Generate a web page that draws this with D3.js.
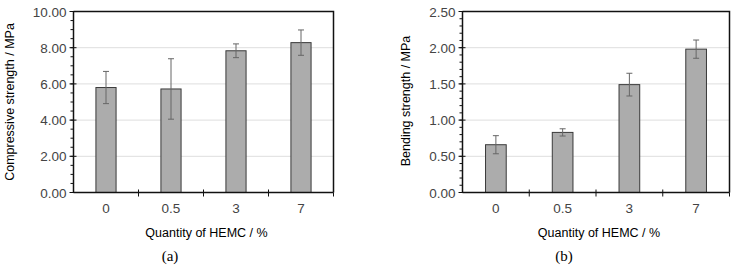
<!DOCTYPE html>
<html><head><meta charset="utf-8">
<script src="https://cdn.jsdelivr.net/npm/d3@7"></script>
<style>body{margin:0;background:#fff}svg{display:block}</style>
</head><body>
<svg id="c" width="734" height="267"></svg>
<script>
const categories = ["0", "0.5", "3", "7"];
const compressive = [5.80, 5.72, 7.83, 8.28];
const compressiveErr = [0.89, 1.67, 0.38, 0.70];
const bending = [0.66, 0.83, 1.49, 1.98];
const bendingErr = [0.125, 0.05, 0.157, 0.126];
const ticksA = [0, 2, 4, 6, 8, 10];
const ticksB = [0, 0.5, 1, 1.5, 2, 2.5];

const svg = d3.select("#c");
const SANS = "Liberation Sans, Arial, sans-serif";

function panel(o) {
  const g = svg.append("g");
  const x = d3.scaleBand().domain(categories).range([o.left, o.right]).paddingInner(0.69).paddingOuter(0.345);
  const band = d3.scaleBand().domain(categories).range([o.left, o.right]);
  const y = d3.scaleLinear().domain([0, o.max]).range([o.bottom, o.top]);

  g.selectAll("line.grid").data(o.ticks.filter(t => t > 0 && t < o.max)).join("line")
    .attr("x1", o.left).attr("x2", o.right)
    .attr("y1", d => y(d)).attr("y2", d => y(d))
    .attr("stroke", "#dedede").attr("stroke-width", 1);

  g.append("path")
    .attr("d", `M${o.left},${o.top}H${o.right}V${o.bottom}`)
    .attr("fill", "none").attr("stroke", "#111").attr("stroke-width", 1.5);

  g.selectAll("rect.bar").data(o.values).join("rect")
    .attr("x", (d, i) => x(categories[i]))
    .attr("width", x.bandwidth())
    .attr("y", d => y(d))
    .attr("height", d => y(0) - y(d))
    .attr("fill", "#acacac").attr("stroke", "#3a3a3a").attr("stroke-width", 1);

  const eg = g.selectAll("g.err").data(o.values).join("g")
    .attr("transform", (d, i) => `translate(${x(categories[i]) + x.bandwidth() / 2},0)`);
  eg.append("line").attr("y1", (d, i) => y(d + o.err[i])).attr("y2", (d, i) => y(d - o.err[i]))
    .attr("stroke", "#666").attr("stroke-width", 1);
  eg.append("line").attr("x1", -3).attr("x2", 3).attr("y1", (d, i) => y(d + o.err[i])).attr("y2", (d, i) => y(d + o.err[i]))
    .attr("stroke", "#666").attr("stroke-width", 1);
  eg.append("line").attr("x1", -3).attr("x2", 3).attr("y1", (d, i) => y(d - o.err[i])).attr("y2", (d, i) => y(d - o.err[i]))
    .attr("stroke", "#666").attr("stroke-width", 1);

  const minors = d3.range(0, o.max + 1e-9, o.minor);
  g.selectAll("line.minor").data(minors).join("line")
    .attr("x1", o.left - 3).attr("x2", o.left)
    .attr("y1", d => y(d)).attr("y2", d => y(d))
    .attr("stroke", "#111").attr("stroke-width", 1);
  g.selectAll("line.major").data(o.ticks).join("line")
    .attr("x1", o.left - 4).attr("x2", o.left + 3)
    .attr("y1", d => y(d)).attr("y2", d => y(d))
    .attr("stroke", "#111").attr("stroke-width", 1);
  g.selectAll("text.ylab").data(o.ticks).join("text")
    .attr("x", o.left - 7).attr("y", d => y(d) + 5)
    .attr("text-anchor", "end")
    .attr("font-family", SANS).attr("font-size", 13.5)
    .attr("fill", "#444").text(d => d.toFixed(2));

  g.append("line").attr("x1", o.left).attr("x2", o.left).attr("y1", o.top).attr("y2", o.bottom)
    .attr("stroke", "#111").attr("stroke-width", 1.5);
  g.append("line").attr("x1", o.left).attr("x2", o.right).attr("y1", o.bottom).attr("y2", o.bottom)
    .attr("stroke", "#111").attr("stroke-width", 1.5);
  g.selectAll("line.xt").data(categories.slice(1)).join("line")
    .attr("x1", d => band(d)).attr("x2", d => band(d))
    .attr("y1", o.bottom - 3).attr("y2", o.bottom + 4)
    .attr("stroke", "#111").attr("stroke-width", 1);
  g.append("line").attr("x1", o.right).attr("x2", o.right).attr("y1", o.bottom).attr("y2", o.bottom + 4)
    .attr("stroke", "#111").attr("stroke-width", 1);
  g.selectAll("text.xlab").data(categories).join("text")
    .attr("x", d => x(d) + x.bandwidth() / 2).attr("y", o.bottom + 20)
    .attr("text-anchor", "middle")
    .attr("font-family", SANS).attr("font-size", 13.5)
    .attr("fill", "#444").text(d => d);

  g.append("text").attr("x", (o.left + o.right) / 2 + 3).attr("y", 237)
    .attr("text-anchor", "middle")
    .attr("font-family", SANS).attr("font-size", 12.5)
    .attr("fill", "#000").text("Quantity of HEMC / %");
  g.append("text").attr("transform", `translate(${o.ytx},${o.yty}) rotate(-90)`)
    .attr("text-anchor", "middle")
    .attr("font-family", SANS).attr("font-size", 12.5)
    .attr("fill", "#000").text(o.ytitle);
  g.append("text").attr("x", o.capx).attr("y", 261)
    .attr("text-anchor", "middle")
    .attr("font-family", "Liberation Serif, Times New Roman, serif").attr("font-size", 15)
    .attr("fill", "#000").text(o.cap);
}

panel({left: 73.5, right: 333.5, top: 11.5, bottom: 192.5, max: 10, ticks: ticksA, minor: 0.5,
  values: compressive, err: compressiveErr, ytitle: "Compressive strength / MPa", ytx: 14, yty: 102,
  cap: "(a)", capx: 170});
panel({left: 462.5, right: 729.5, top: 11.5, bottom: 192.5, max: 2.5, ticks: ticksB, minor: 0.1,
  values: bending, err: bendingErr, ytitle: "Bending strength / MPa", ytx: 410, yty: 101,
  cap: "(b)", capx: 564});
</script>
</body></html>
